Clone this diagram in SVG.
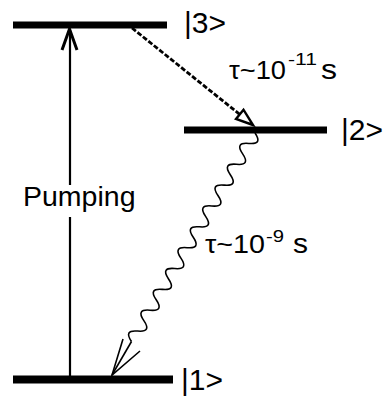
<svg xmlns="http://www.w3.org/2000/svg" width="388" height="396" viewBox="0 0 388 396">
<defs>
<style>
.lvl{stroke:#000;stroke-width:7;fill:none}
.lbl{font-family:"Liberation Sans",Arial,sans-serif;fill:#000}
.ket{font-size:30px}
.ln{stroke:#000;fill:none}
</style>
</defs>
<rect width="388" height="396" fill="#fff"/>
<g id="level3">
<line class="lvl" x1="13" y1="25" x2="167" y2="25"/>
<text class="lbl ket" x="184" y="33">|3&gt;</text>
</g>
<g id="level2">
<line class="lvl" x1="184" y1="130" x2="327" y2="130"/>
<text class="lbl ket" x="341" y="140">|2&gt;</text>
</g>
<g id="level1">
<line class="lvl" x1="13" y1="379.5" x2="173" y2="379.5" style="stroke-width:8"/>
<text class="lbl ket" x="181" y="390">|1&gt;</text>
</g>
<g id="connectors">
<g id="pumping">
<line class="ln" x1="70" y1="376" x2="70" y2="217" stroke-width="2.2"/>
<line class="ln" x1="70" y1="185" x2="70" y2="30" stroke-width="2.2"/>
<polyline class="ln" points="62,50 69.5,29 77,50" stroke-width="3"/>
<text class="lbl" x="23" y="206" font-size="28.5">Pumping</text>
</g>
<g id="fast-decay">
<line class="ln" x1="132" y1="28" x2="240" y2="114.6" stroke-width="2.8" stroke-dasharray="5,2"/>
<polygon points="253,125 236,119 243.5,109.7" fill="#fff" stroke="#000" stroke-width="2.4" stroke-linejoin="miter"/>
<text class="lbl" font-size="25" x="229" y="79" textLength="57" lengthAdjust="spacingAndGlyphs">τ~10</text>
<text class="lbl" font-size="17" x="288" y="65" textLength="29" lengthAdjust="spacingAndGlyphs">-11</text>
<text class="lbl" font-size="27" x="321" y="79" textLength="16" lengthAdjust="spacingAndGlyphs">s</text>
</g>
<g id="radiative-decay">
<path class="ln" stroke-width="1.6" d="M255,133 q8.10,11.84 -6.175,10.425 t-6.175,10.425 t-6.175,10.425 t-6.175,10.425 t-6.175,10.425 t-6.175,10.425 t-6.175,10.425 t-6.175,10.425 t-6.175,10.425 t-6.175,10.425 t-6.175,10.425 t-6.175,10.425 t-6.175,10.425 t-6.175,10.425 t-6.175,10.425 t-6.175,10.425 t-6.175,10.425 t-6.175,10.425 t-6.175,10.425 t-6.175,10.425"/>
<polyline class="ln" stroke-width="1.6" points="131.5,341.5 112,375"/>
<polyline class="ln" stroke-width="1.6" points="123,339 112,375 140,351"/>
<text class="lbl" font-size="25" x="205" y="253" textLength="60" lengthAdjust="spacingAndGlyphs">τ~10</text>
<text class="lbl" font-size="17" x="266" y="242" textLength="18" lengthAdjust="spacingAndGlyphs">-9</text>
<text class="lbl" font-size="27" x="293" y="253" textLength="15" lengthAdjust="spacingAndGlyphs">s</text>
</g>
</g>
</svg>
